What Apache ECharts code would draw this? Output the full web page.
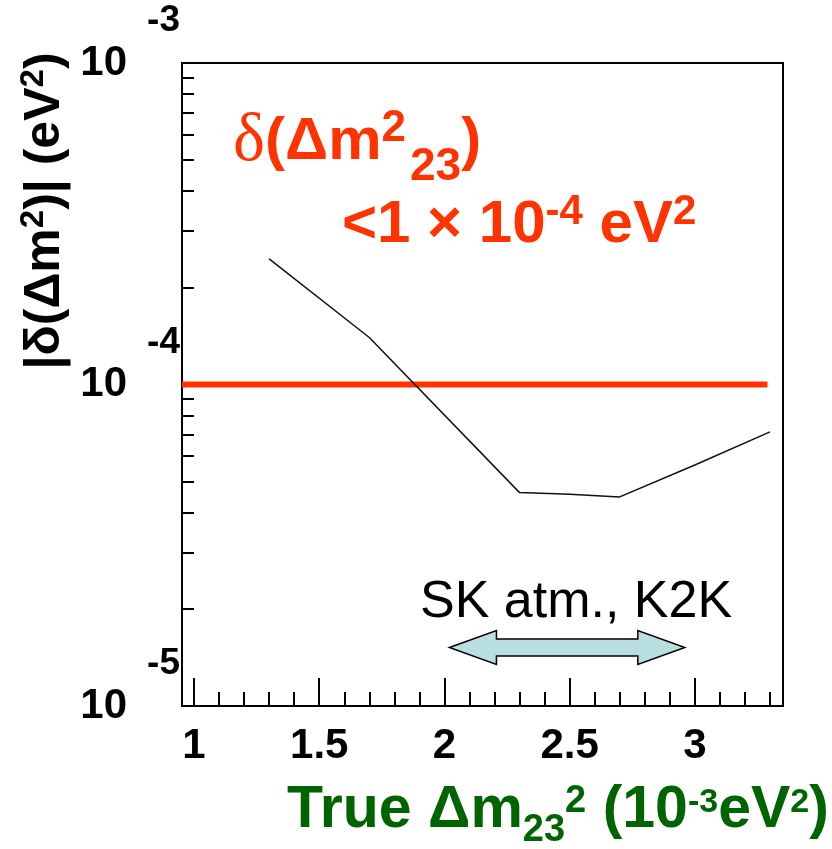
<!DOCTYPE html>
<html lang="en">
<head>
  <meta charset="UTF-8">
  <title>delta dm23 precision</title>
  <script src="https://cdn.jsdelivr.net/npm/echarts@6/dist/echarts.min.js"></script>
  <style>
    html, body { margin: 0; padding: 0; background: #fff; }
    #chart { width: 832px; height: 849px; }
  </style>
</head>
<body>
  <div id="chart"></div>
  <script>
    // true dm23^2 (1e-3 eV^2) -> |delta(dm^2)| (eV^2)
    var trueDm = [1.3, 1.7, 2.3, 2.5, 2.7, 3.0, 3.3];
    var deltaDm = [2.46e-4, 1.40e-4, 4.61e-5, 4.56e-5, 4.47e-5, 5.62e-5, 7.12e-5];

    // the 1e-4 eV^2 goal line
    var limitX = [0.952, 3.29];
    var limitY = [1e-4, 1e-4];

    var xMajorTicks = [1, 1.5, 2, 2.5, 3];
    var xMinorTicks = [1.1, 1.2, 1.3, 1.4, 1.6, 1.7, 1.8, 1.9, 2.1, 2.2, 2.3, 2.4,
      2.6, 2.7, 2.8, 2.9, 3.1, 3.2, 3.3];
    var yMajorTicks = [1e-5, 1e-4, 1e-3];
    var yMinorTicks = [2e-5, 3e-5, 4e-5, 5e-5, 6e-5, 7e-5, 8e-5, 9e-5,
      2e-4, 3e-4, 4e-4, 5e-4, 6e-4, 7e-4, 8e-4, 9e-4];

    // SK atm., K2K range arrow
    var arrowX = [2.02, 2.96];
    var arrowY = 1.52e-5;

    var SANS = 'Liberation Sans, Arial, sans-serif';
    var RED = '#ff3300';
    var GREEN = '#006400';

    var chart = echarts.init(document.getElementById('chart'));

    var option = {
      animation: false,
      textStyle: { fontFamily: SANS },
      grid: {
        left: 182, right: 49, top: 63, bottom: 143,
        show: true, borderColor: '#000', borderWidth: 2
      },
      title: [
        {
          left: 233, top: 107, padding: 0,
          text: '{d|δ}{p|(Δm}{sup|2}{sub|23}{p|)}',
          textStyle: {
            rich: {
              d: { fontFamily: 'Liberation Serif, serif', fontWeight: 'normal', fontSize: 68, color: RED, lineHeight: 70 },
              p: { fontFamily: SANS, fontWeight: 'bold', fontSize: 60, color: RED, lineHeight: 70 },
              sup: { fontFamily: SANS, fontWeight: 'bold', fontSize: 44, color: RED, lineHeight: 70, padding: [0, 4, 26, 0] },
              sub: { fontFamily: SANS, fontWeight: 'bold', fontSize: 46, color: RED, lineHeight: 70, padding: [50, 0, 0, 0] }
            }
          }
        },
        {
          left: 342, top: 190, padding: 0,
          text: '{p|<1 × 10}{sup|-4}{p| eV}{sup|2}',
          textStyle: {
            rich: {
              p: { fontFamily: SANS, fontWeight: 'bold', fontSize: 60, color: RED, lineHeight: 70 },
              sup: { fontFamily: SANS, fontWeight: 'bold', fontSize: 42, color: RED, lineHeight: 70, padding: [0, 0, 26, 0] }
            }
          }
        },
        {
          left: 420, top: 577, padding: 0,
          text: 'SK atm., K2K',
          textStyle: { fontFamily: SANS, fontWeight: 'normal', fontSize: 52, color: '#000' }
        },
        {
          left: 287, top: 779, padding: 0,
          text: '{p|True Δm}{sub|23}{sup|2}{p| (10}{sup2|-3}{p|eV}{sup2|2}{p|)}',
          textStyle: {
            rich: {
              p: { fontFamily: SANS, fontWeight: 'bold', fontSize: 59, color: GREEN, lineHeight: 64 },
              sub: { fontFamily: SANS, fontWeight: 'bold', fontSize: 38, color: GREEN, lineHeight: 64, padding: [40, 0, 0, 0] },
              sup: { fontFamily: SANS, fontWeight: 'bold', fontSize: 38, color: GREEN, lineHeight: 64, padding: [0, 0, 18, 0] },
              sup2: { fontFamily: SANS, fontWeight: 'bold', fontSize: 34, color: GREEN, lineHeight: 64, padding: [0, 0, 16, 0] }
            }
          }
        }
      ],
      xAxis: [
        {
          type: 'value', min: 0.952, max: 3.352,
          axisLine: { onZero: false, lineStyle: { color: '#000', width: 2 } },
          axisTick: { inside: true, length: 28, customValues: xMajorTicks, lineStyle: { color: '#000', width: 2 } },
          axisLabel: {
            customValues: xMajorTicks, margin: 19,
            fontFamily: SANS, fontWeight: 'bold', fontSize: 42, color: '#000'
          },
          splitLine: { show: false }
        },
        {
          type: 'value', min: 0.952, max: 3.352, position: 'bottom',
          axisLine: { show: false },
          axisTick: { inside: true, length: 14, customValues: xMinorTicks, lineStyle: { color: '#000', width: 2 } },
          axisLabel: { show: false },
          splitLine: { show: false }
        }
      ],
      yAxis: [
        {
          type: 'log', logBase: 10, min: 1e-5, max: 1e-3,
          axisLine: { onZero: false, lineStyle: { color: '#000', width: 2 } },
          axisTick: { inside: true, length: 24, customValues: yMajorTicks, lineStyle: { color: '#000', width: 2 } },
          axisLabel: {
            customValues: yMajorTicks, margin: 2,
            formatter: function (v) {
              var e = Math.round(Math.log(v) / Math.LN10);
              return '{e|' + e + '}\n{b|10}\n{s| }';
            },
            rich: {
              e: { fontFamily: SANS, fontWeight: 'bold', fontSize: 37, color: '#000', lineHeight: 42, align: 'right' },
              b: { fontFamily: SANS, fontWeight: 'bold', fontSize: 42, color: '#000', lineHeight: 42, align: 'right', padding: [0, 53, 0, 0] },
              s: { fontSize: 10, lineHeight: 42 }
            }
          },
          splitLine: { show: false }
        },
        {
          type: 'log', logBase: 10, min: 1e-5, max: 1e-3, position: 'left',
          axisLine: { show: false },
          axisTick: { inside: true, length: 12, customValues: yMinorTicks, lineStyle: { color: '#000', width: 2 } },
          axisLabel: { show: false },
          splitLine: { show: false }
        }
      ],
      series: [
        {
          name: 'goal',
          type: 'line',
          data: limitX.map(function (x, i) { return [x, limitY[i]]; }),
          showSymbol: false,
          lineStyle: { color: RED, width: 6 },
          z: 2
        },
        {
          name: 'precision',
          type: 'line',
          data: trueDm.map(function (x, i) { return [x, deltaDm[i]]; }),
          showSymbol: false,
          lineStyle: { color: '#111', width: 1.5 },
          z: 3
        }
      ]
    };

    chart.setOption(option);

    // y title (rotated) and the range arrow
    var p0 = chart.convertToPixel({ xAxisIndex: 0, yAxisIndex: 0 }, [arrowX[0], arrowY]);
    var p1 = chart.convertToPixel({ xAxisIndex: 0, yAxisIndex: 0 }, [arrowX[1], arrowY]);
    var cy = p0[1], head = 47, hh = 17, sh = 8.5;
    chart.setOption({
      graphic: [
        {
          type: 'polygon',
          shape: {
            points: [
              [p0[0], cy], [p0[0] + head, cy - hh], [p0[0] + head, cy - sh],
              [p1[0] - head, cy - sh], [p1[0] - head, cy - hh], [p1[0], cy],
              [p1[0] - head, cy + hh], [p1[0] - head, cy + sh],
              [p0[0] + head, cy + sh], [p0[0] + head, cy + hh]
            ]
          },
          style: { fill: '#b9dfe2', stroke: '#000', lineWidth: 1.5 },
          z: 10
        },
        {
          type: 'text',
          x: 45, y: 211,
          rotation: Math.PI / 2,
          style: {
            text: '{p||δ(Δm}{sup|2}{p|)| (eV}{sup|2}{p|)}',
            align: 'center', verticalAlign: 'middle',
            rich: {
              p: { fontFamily: SANS, fontWeight: 'bold', fontSize: 50, fill: '#000', lineHeight: 54 },
              sup: { fontFamily: SANS, fontWeight: 'bold', fontSize: 33, fill: '#000', lineHeight: 54, padding: [0, 0, 22, 0] }
            }
          },
          z: 10
        }
      ]
    });
  </script>
</body>
</html>
